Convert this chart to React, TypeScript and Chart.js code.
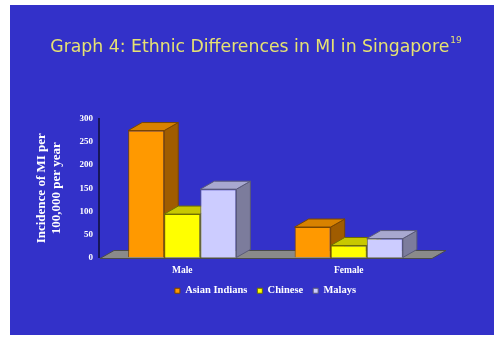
import { useEffect, useRef } from 'react';
import { Chart, registerables } from 'chart.js';

Chart.register(...registerables);

// Incidence of MI per 100,000 per year, by sex and ethnic group
const categories = ['Male', 'Female'];
const seriesNames = ['Asian Indians', 'Chinese', 'Malays'];
const asianIndians = [275, 66];
const chinese = [94, 26];
const malays = [148, 41];
const yTickValues = [0, 50, 100, 150, 200, 250, 300];

const titleText = 'Graph 4: Ethnic Differences in MI in Singapore';
const titleSup = '19';
const yTitleLines = ['Incidence of MI per', '100,000 per year'];

const frontColors = ['#FF9900', '#FFFF00', '#CCCCFF'];
const topColors = ['#D88200', '#C8C800', '#A8A8D0'];
const sideColors = ['#A05C00', '#969600', '#7C7C9C'];
const edgeColors = ['#7a4600', '#6e6e00', '#5a5a78'];

const PANEL = '#3331C9';
const DX = 14;
const DY = 8;

const panelPlugin = {
  id: 'panel',
  beforeDraw(chart: any) {
    const { ctx, width, height } = chart;
    ctx.save();
    ctx.fillStyle = '#ffffff';
    ctx.fillRect(0, 0, width, height);
    ctx.fillStyle = PANEL;
    ctx.fillRect(10, 5, width - 14, height - 7);
    ctx.restore();
  },
};

// floor slab plus the top and side faces that give the bars depth
const depthPlugin = {
  id: 'depth',
  beforeDatasetsDraw(chart: any) {
    const { ctx, chartArea } = chart;
    const { left, right, bottom } = chartArea;
    ctx.save();
    ctx.fillStyle = '#8A8A8A';
    ctx.strokeStyle = '#4a4a4a';
    ctx.lineWidth = 1;
    ctx.beginPath();
    ctx.moveTo(left + 1, bottom + 1);
    ctx.lineTo(left + 1 + DX, bottom + 1 - DY);
    ctx.lineTo(right + DX, bottom + 1 - DY);
    ctx.lineTo(right, bottom + 1);
    ctx.closePath();
    ctx.fill();
    ctx.stroke();

    chart.data.datasets.forEach((_: any, i: number) => {
      const meta = chart.getDatasetMeta(i);
      meta.data.forEach((bar: any) => {
        const { x, y, base, width } = bar.getProps(['x', 'y', 'base', 'width'], true);
        const l = x - width / 2;
        const r = x + width / 2;
        ctx.strokeStyle = edgeColors[i];
        ctx.fillStyle = sideColors[i];
        ctx.beginPath();
        ctx.moveTo(r, y);
        ctx.lineTo(r + DX, y - DY);
        ctx.lineTo(r + DX, base - DY);
        ctx.lineTo(r, base);
        ctx.closePath();
        ctx.fill();
        ctx.stroke();
        ctx.fillStyle = topColors[i];
        ctx.beginPath();
        ctx.moveTo(l, y);
        ctx.lineTo(l + DX, y - DY);
        ctx.lineTo(r + DX, y - DY);
        ctx.lineTo(r, y);
        ctx.closePath();
        ctx.fill();
        ctx.stroke();
      });
    });
    ctx.restore();
  },
};

const titlePlugin = {
  id: 'slideTitle',
  afterDraw(chart: any) {
    const { ctx } = chart;
    ctx.save();
    ctx.fillStyle = '#E6E272';
    ctx.textBaseline = 'middle';
    ctx.font = '17.3px "DejaVu Sans"';
    const w = ctx.measureText(titleText).width;
    ctx.font = '9px "DejaVu Sans"';
    const ws = ctx.measureText(titleSup).width;
    const cx = 256;
    const x0 = cx - (w + ws + 1) / 2;
    ctx.font = '17.3px "DejaVu Sans"';
    ctx.fillText(titleText, x0, 48);
    ctx.font = '9px "DejaVu Sans"';
    ctx.fillText(titleSup, x0 + w + 1, 41);
    ctx.restore();
  },
};

export default function App() {
  const ref = useRef<HTMLCanvasElement | null>(null);

  useEffect(() => {
    document.body.style.margin = '0';
    const canvas = ref.current;
    if (!canvas) return;
    const seriesValues = [asianIndians, chinese, malays];
    const chart = new Chart(canvas, {
      type: 'bar',
      data: {
        labels: categories,
        datasets: seriesNames.map((name, i) => ({
          label: name,
          data: seriesValues[i],
          backgroundColor: frontColors[i],
          borderColor: edgeColors[i],
          borderWidth: 1,
          categoryPercentage: 0.65,
          barPercentage: 1,
        })),
      },
      options: {
        responsive: false,
        animation: false,
        layout: { padding: { left: 0, right: 66, top: 119, bottom: 31 } },
        plugins: {
          tooltip: { enabled: false },
          legend: {
            position: 'bottom',
            fullSize: false,
            labels: {
              boxWidth: 5,
              boxHeight: 5,
              padding: 10,
              color: '#ffffff',
              font: { family: '"Liberation Serif"', size: 10.5, weight: 'bold' },
            },
          },
        },
        scales: {
          x: {
            grid: { display: false, drawTicks: false },
            border: { display: false },
            ticks: {
              padding: 7,
              color: '#ffffff',
              font: { family: '"Liberation Serif"', size: 9.5, weight: 'bold' },
            },
            afterFit: (scale: any) => {
              scale.height = 18;
            },
          },
          y: {
            min: 0,
            max: 300,
            afterBuildTicks: (scale: any) => {
              scale.ticks = yTickValues.map((v) => ({ value: v }));
            },
            grid: { display: false, drawTicks: false },
            border: { display: true, color: '#16165A', width: 2 },
            ticks: {
              padding: 6,
              color: '#ffffff',
              font: { family: '"Liberation Serif"', size: 9, weight: 'bold' },
            },
            title: {
              display: true,
              text: yTitleLines,
              color: '#ffffff',
              padding: { top: 34, bottom: 0 },
              font: { family: '"Liberation Serif"', size: 13, weight: 'bold', lineHeight: 1.15 },
            },
            afterFit: (scale: any) => {
              scale.width = 99;
            },
          },
        },
      },
      plugins: [panelPlugin, depthPlugin, titlePlugin],
    });
    return () => chart.destroy();
  }, []);

  return <canvas ref={ref} width={498} height={337} style={{ display: 'block' }} />;
}
